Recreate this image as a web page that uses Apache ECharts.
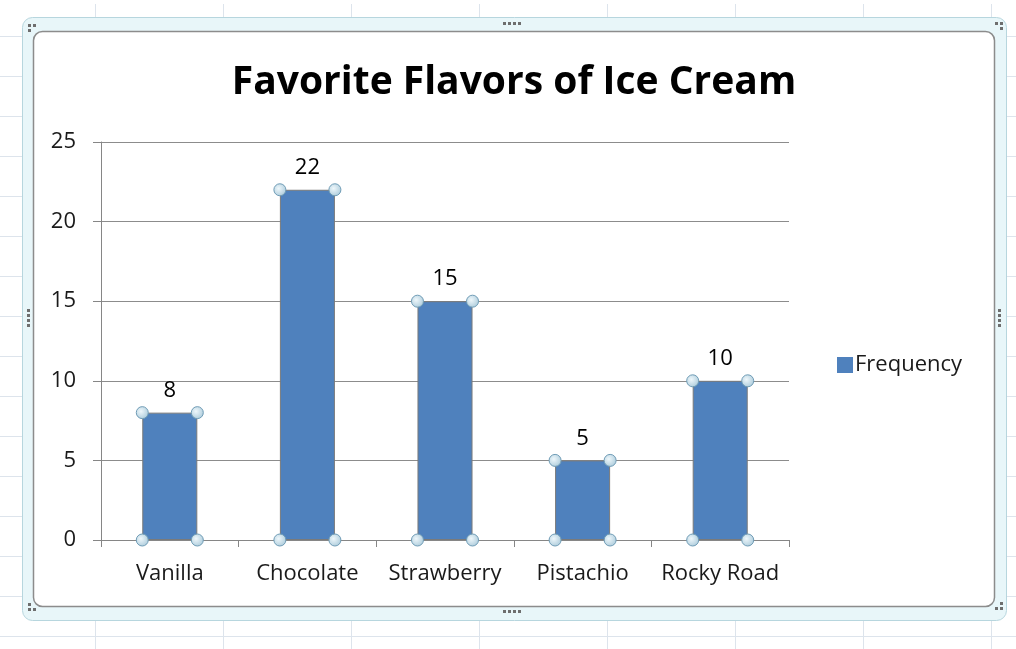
<!DOCTYPE html>
<html>
<head>
<meta charset="utf-8">
<script src="https://cdn.jsdelivr.net/npm/echarts@6/dist/echarts.min.js"></script>
<style>
  html, body { margin: 0; padding: 0; background: #ffffff; }
  #main { width: 1016px; height: 649px; }
</style>
</head>
<body>
<div id="main"></div>
<script>
var flavors = ['Vanilla', 'Chocolate', 'Strawberry', 'Pistachio', 'Rocky Road'];
var frequency = [8, 22, 15, 5, 10];
var yTicks = [0, 5, 10, 15, 20, 25];

var sheetCols = [95, 223, 351, 479, 607, 735, 863, 991];
var sheetRows = [36, 76, 116, 156, 196, 236, 276, 316, 356, 396, 436, 476, 516, 556, 596, 636];

// spreadsheet gridlines + chart frame behind the plot
var deco = [];
sheetCols.forEach(function (x) {
    deco.push({ type: 'line', z: -10, shape: { x1: x + 0.5, y1: 4, x2: x + 0.5, y2: 649 }, style: { stroke: '#dde4ec', lineWidth: 1 } });
});
sheetRows.forEach(function (y) {
    deco.push({ type: 'line', z: -10, shape: { x1: 0, y1: y + 0.5, x2: 1016, y2: y + 0.5 }, style: { stroke: '#dde4ec', lineWidth: 1 } });
});
deco.push({ type: 'rect', z: -9, shape: { x: 22.5, y: 17.5, width: 984, height: 603, r: 10 }, style: { fill: '#e8f6f9', stroke: '#b7d6de', lineWidth: 1 } });
deco.push({ type: 'rect', z: -8, shape: { x: 33.5, y: 31.5, width: 961, height: 575, r: 9 }, style: { fill: '#ffffff', stroke: '#8c8c8c', lineWidth: 1.5 } });
// sizing handle dots
function dots(pts) {
    pts.forEach(function (p) {
        deco.push({ type: 'rect', z: -7, shape: { x: p[0], y: p[1], width: 3, height: 3 }, style: { fill: '#6e6e6e' } });
    });
}
dots([[503, 22], [508, 22], [513, 22], [518, 22]]);
dots([[503, 610], [508, 610], [513, 610], [518, 610]]);
dots([[27, 309], [27, 314], [27, 319], [27, 324]]);
dots([[998, 309], [998, 314], [998, 319], [998, 324]]);
dots([[28, 24], [33, 24], [28, 29]]);
dots([[995, 22], [1000, 22], [1000, 27]]);
dots([[28, 603], [28, 608], [33, 608]]);
dots([[995, 607], [1000, 607], [1000, 602]]);

var font = 'Open Sans';

var option = {
    animation: false,
    backgroundColor: '#ffffff',
    title: {
        text: 'Favorite Flavors of Ice Cream',
        left: 509,
        top: 58,
        textAlign: 'center',
        textStyle: { fontFamily: font, fontWeight: 'bold', fontSize: 39, color: '#000000' }
    },
    legend: {
        data: ['Frequency'],
        orient: 'vertical',
        left: 832,
        top: 349,
        icon: 'rect',
        itemWidth: 16,
        itemHeight: 16,
        itemStyle: { borderWidth: 0 },
        textStyle: { fontFamily: font, fontSize: 22, color: '#1a1a1a', padding: [0, 0, 0, -3] }
    },
    grid: { left: 101, right: 227, top: 142, bottom: 109 },
    xAxis: {
        type: 'category',
        data: flavors,
        axisLine: { lineStyle: { color: '#868686', width: 1 } },
        axisTick: { show: true, length: 7, lineStyle: { color: '#868686' } },
        axisLabel: { interval: 0, fontFamily: font, fontSize: 22, color: '#1a1a1a', margin: 23 }
    },
    yAxis: {
        type: 'value',
        min: yTicks[0],
        max: yTicks[yTicks.length - 1],
        interval: 5,
        axisLine: { show: true, lineStyle: { color: '#868686', width: 1 } },
        axisTick: { show: true, length: 8, lineStyle: { color: '#868686' } },
        axisLabel: { fontFamily: font, fontSize: 22, color: '#1a1a1a', margin: 25 },
        splitLine: { lineStyle: { color: '#8c8c8c', width: 1 } }
    },
    graphic: deco,
    series: [
        {
            name: 'Frequency',
            type: 'bar',
            data: frequency,
            barWidth: '40%',
            itemStyle: { color: '#4f81bd', borderColor: '#7a7a7a', borderWidth: 1 },
            label: {
                show: true,
                position: 'top',
                distance: 11,
                fontFamily: font,
                fontSize: 22,
                color: '#000000'
            }
        },
        {
            // selection handles at the bar corners
            name: 'handles',
            type: 'custom',
            silent: true,
            z: 5,
            data: frequency.map(function (v, i) { return [i, v]; }),
            renderItem: function (params, api) {
                var top = api.coord([api.value(0), api.value(1)]);
                var base = api.coord([api.value(0), 0]);
                var w = api.size([1, 0])[0] * 0.4;
                var pts = [[top[0] - w / 2, top[1]], [top[0] + w / 2, top[1]], [top[0] - w / 2, base[1]], [top[0] + w / 2, base[1]]];
                return {
                    type: 'group',
                    children: pts.map(function (p) {
                        return {
                            type: 'circle',
                            shape: { cx: p[0], cy: p[1], r: 6 },
                            style: {
                                fill: new echarts.graphic.RadialGradient(0.4, 0.4, 0.7, [
                                    { offset: 0, color: '#eef7fb' },
                                    { offset: 1, color: '#a6c7d8' }
                                ]),
                                stroke: '#6f9cb6',
                                lineWidth: 1
                            }
                        };
                    })
                };
            }
        }
    ]
};

var myChart = echarts.init(document.getElementById('main'));
myChart.setOption(option);
window.onresize = myChart.resize;
</script>
</body>
</html>
